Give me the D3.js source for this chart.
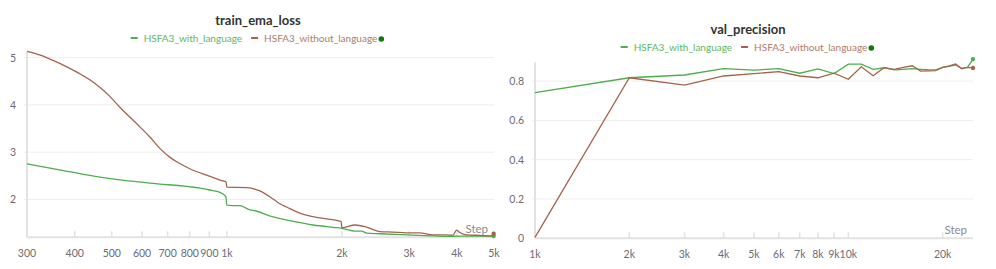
<!DOCTYPE html>
<html>
<head>
<meta charset="utf-8">
<script src="https://cdn.jsdelivr.net/npm/d3@7"></script>
<style>
body { margin: 0; background: #fff; }
svg text { font-family: Lato, "Open Sans", sans-serif; }
</style>
</head>
<body>
<script>
// train_ema_loss
var lossStepsWith = [300, 374, 465, 629, 850, 903, 959, 994, 1000, 1036, 1081, 1148, 1172, 1321, 1493, 1681, 1896, 2000, 2165, 2254, 2319, 2512, 2950, 3462, 3753, 4067, 4586, 4990]
var lossWith = [2.75, 2.61, 2.47, 2.345, 2.24, 2.20, 2.15, 2.06, 1.88, 1.87, 1.87, 1.78, 1.77, 1.63, 1.535, 1.46, 1.41, 1.39, 1.33, 1.33, 1.29, 1.275, 1.25, 1.23, 1.22, 1.225, 1.225, 1.225]
var lossStepsWithout = [300, 325, 351, 380, 412, 438, 465, 494, 525, 593, 629, 668, 710, 745, 800, 903, 968, 995, 1000, 1126, 1220, 1321, 1376, 1433, 1552, 1750, 1990, 2000, 2165, 2319, 2512, 2721, 2950, 3195, 3462, 3753, 3905, 3990, 4067, 4234, 4586, 4920, 4990]
var lossWithout = [5.13, 5.05, 4.94, 4.81, 4.66, 4.53, 4.37, 4.18, 3.95, 3.53, 3.32, 3.08, 2.89, 2.78, 2.65, 2.49, 2.40, 2.37, 2.26, 2.25, 2.18, 2.01, 1.91, 1.84, 1.71, 1.61, 1.535, 1.40, 1.46, 1.415, 1.32, 1.31, 1.295, 1.295, 1.25, 1.25, 1.245, 1.35, 1.30, 1.25, 1.24, 1.23, 1.275]
var lossXTicks = [300, 400, 500, 600, 700, 800, 900, 1000, 2000, 3000, 4000, 5000]
var lossXLabels = ["300", "400", "500", "600", "700", "800", "900", "1k", "2k", "3k", "4k", "5k"]
var lossYTicks = [2, 3, 4, 5]

// val_precision
var precSteps = [1000, 2000, 3000, 4000, 5000, 6000, 7000, 8000, 9000, 10000, 11000, 12000, 13000, 14000, 15000, 16000, 17000, 18000, 19000, 20000, 21000, 22000, 23000, 24000, 25000]
var precWith = [0.741, 0.817, 0.831, 0.863, 0.856, 0.863, 0.84, 0.862, 0.838, 0.886, 0.886, 0.86, 0.868, 0.857, 0.86, 0.863, 0.86, 0.858, 0.857, 0.87, 0.875, 0.882, 0.865, 0.87, 0.912]
var precWithout = [0.005, 0.817, 0.78, 0.826, 0.838, 0.848, 0.826, 0.817, 0.84, 0.809, 0.873, 0.827, 0.868, 0.86, 0.87, 0.878, 0.851, 0.852, 0.853, 0.87, 0.878, 0.887, 0.863, 0.87, 0.867]
var precXTicks = [1000, 2000, 3000, 4000, 5000, 6000, 7000, 8000, 9000, 10000, 20000]
var precXLabels = ["1k", "2k", "3k", "4k", "5k", "6k", "7k", "8k", "9k", "10k", "20k"]
var precYTicks = [0, 0.2, 0.4, 0.6, 0.8]

var seriesNames = ["HSFA3_with_language", "HSFA3_without_language"]
var lineColors = ["#4cae4c", "#a5634c"]
var textColors = ["#5cb85c", "#b27a66"]

var svg = d3.select("body")
  .append("svg")
  .attr("width", 996)
  .attr("height", 269)

function zip(xs, ys) {
  return xs.map(function(x, i) { return [x, ys[i]] })
}

function panel(opt) {
  var g = svg.append("g")
  var x = d3.scaleLog().domain(opt.xDomain).range(opt.xRange)
  var y = d3.scaleLinear().domain(opt.yDomain).range(opt.yRange)
  var left = opt.xRange[0], right = opt.xRange[1]
  var bottom = opt.yRange[0], top = opt.yRange[1]

  // grid + y ticks
  g.selectAll(".grid").data(opt.yTicks.filter(function(d) { return d != opt.yDomain[0] }))
    .enter().append("line")
    .attr("x1", left - 3).attr("x2", right)
    .attr("y1", function(d) { return y(d) }).attr("y2", function(d) { return y(d) })
    .attr("stroke", "#eeeeee").attr("stroke-width", 1)

  g.selectAll(".ylab").data(opt.yTicks)
    .enter().append("text")
    .text(function(d) { return d })
    .attr("x", left - 11)
    .attr("y", function(d) { return y(d) + 4 })
    .attr("text-anchor", "end")
    .attr("font-size", "10.5px")
    .attr("fill", "#6b6b76")

  // x ticks
  g.selectAll(".xtick").data(opt.xTicks)
    .enter().append("line")
    .attr("x1", function(d) { return x(d) }).attr("x2", function(d) { return x(d) })
    .attr("y1", bottom - 6).attr("y2", bottom)
    .attr("stroke", "#e2e2e2").attr("stroke-width", 1.5)

  g.selectAll(".xlab").data(opt.xTicks)
    .enter().append("text")
    .text(function(d, i) { return opt.xLabels[i] })
    .attr("x", function(d) { return x(d) })
    .attr("y", bottom + 20)
    .attr("text-anchor", "middle")
    .attr("font-size", "10.5px")
    .attr("fill", "#6b6b76")

  // axis lines
  g.append("line")
    .attr("x1", left).attr("x2", left).attr("y1", top + 4).attr("y2", bottom)
    .attr("stroke", "#e2e2e2").attr("stroke-width", 2)
  g.append("line")
    .attr("x1", left).attr("x2", right).attr("y1", bottom).attr("y2", bottom)
    .attr("stroke", "#e2e2e2").attr("stroke-width", 2)

  g.append("text").text("Step")
    .attr("x", right - 6).attr("y", bottom - 4)
    .attr("text-anchor", "end")
    .attr("font-size", "11.5px")
    .attr("fill", "#8a8a92")

  var line = d3.line()
    .curve(opt.curve)
    .x(function(d) { return x(d[0]) })
    .y(function(d) { return y(d[1]) })

  opt.series.forEach(function(s, i) {
    g.append("path")
      .datum(s)
      .attr("d", line)
      .attr("fill", "none")
      .attr("stroke", lineColors[i])
      .attr("stroke-width", 1.3)
    var last = s[s.length - 1]
    g.append("circle")
      .attr("cx", x(last[0])).attr("cy", y(last[1]))
      .attr("r", 2.2)
      .attr("fill", lineColors[i])
  })

  // title + legend
  g.append("text").text(opt.title)
    .attr("x", opt.titleX).attr("y", opt.titleY)
    .attr("text-anchor", "middle")
    .attr("font-size", "13px")
    .attr("font-weight", "bold")
    .attr("fill", "#333")

  var lg = g.append("g")
  var cx = 0
  seriesNames.forEach(function(n, i) {
    lg.append("line")
      .attr("x1", cx).attr("x2", cx + 7)
      .attr("y1", 0).attr("y2", 0)
      .attr("stroke", lineColors[i]).attr("stroke-width", 2)
    var t = lg.append("text").text(n)
      .attr("x", cx + 13).attr("y", 3.5)
      .attr("font-size", "10px")
      .attr("fill", textColors[i])
    cx += 13 + t.node().getComputedTextLength() + 9
  })
  cx -= 9
  lg.append("circle").attr("cx", cx + 4).attr("cy", 1).attr("r", 2.8).attr("fill", "#0b7a0b")
  lg.attr("transform", "translate(" + (opt.titleX - (cx + 8) / 2) + "," + opt.legendY + ")")
}

panel({
  title: "train_ema_loss", titleX: 258, titleY: 25, legendY: 38,
  xDomain: [300, 5000], xRange: [27, 494],
  yDomain: [1.2, 5.2], yRange: [237.3, 48.1],
  xTicks: lossXTicks, xLabels: lossXLabels, yTicks: lossYTicks,
  curve: d3.curveMonotoneX,
  series: [zip(lossStepsWith, lossWith), zip(lossStepsWithout, lossWithout)]
})

panel({
  title: "val_precision", titleX: 748, titleY: 34, legendY: 47,
  xDomain: [1000, 25000], xRange: [535, 973],
  yDomain: [0, 0.915], yRange: [238.3, 58.5],
  xTicks: precXTicks, xLabels: precXLabels, yTicks: precYTicks,
  curve: d3.curveLinear,
  series: [zip(precSteps, precWith), zip(precSteps, precWithout)]
})
</script>
</body>
</html>
